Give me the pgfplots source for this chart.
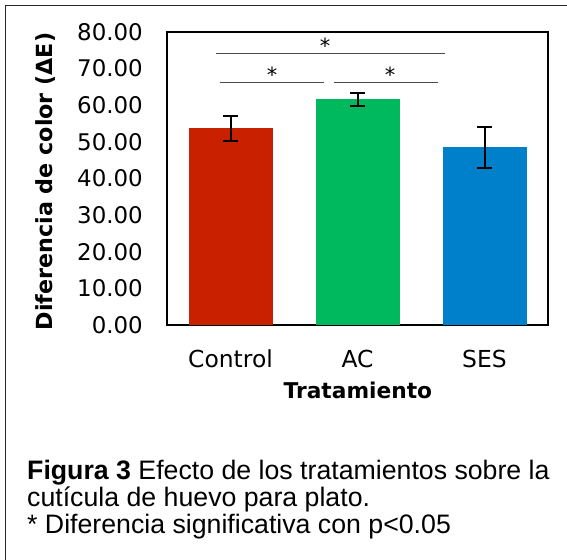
\documentclass[border=0pt]{standalone}
\usepackage{fontspec}
\setmainfont{DejaVu Sans}
\newfontfamily\capfont{Liberation Sans}
\usepackage{pgfplots}
\pgfplotsset{compat=1.18}
\definecolor{cred}{RGB}{201,33,0}
\definecolor{cgreen}{RGB}{0,185,95}
\definecolor{cblue}{RGB}{0,128,203}
\begin{document}
\begin{tikzpicture}
\path[use as bounding box] (0bp,0bp) rectangle (567bp,-560bp);
\draw[line width=1.5bp, black!85] (5.5bp,-560bp) -- (5.5bp,-5.5bp) -- (567bp,-5.5bp);
\begin{axis}[
  at={(167bp,-325bp)}, anchor=south west,
  scale only axis, width=381bp, height=293bp,
  xmin=-0.5, xmax=2.5, ymin=0, ymax=80,
  xtick={0,1,2}, xticklabels={Control,AC,SES},
  ytick={0,10,...,80},
  major tick length=0pt,
  axis line style={line width=1.5bp, black},
  clip=false,
  /pgf/number format/assume math mode=true,
  yticklabel={\pgfmathprintnumber[fixed,fixed zerofill,precision=2]{\tick}},
  yticklabel style={font=\fontsize{23}{23}\selectfont, anchor=east, inner sep=0pt, xshift=-24bp},
  xticklabel style={font=\fontsize{23.5}{23.5}\selectfont, anchor=base, inner sep=0pt, yshift=-42.4bp},
  xlabel={\textbf{Tratamiento}},
  xlabel style={font=\fontsize{21.8}{21.8}\selectfont, at={(axis description cs:0.501,-0.222)}, anchor=center, inner sep=0pt},
  ylabel={\textbf{Diferencia de color (ΔE)}},
  ylabel style={font=\fontsize{22.3}{22.3}\selectfont, at={(axis description cs:-0.32,0.49)}, anchor=center, inner sep=0pt},
]
\addplot[ybar, bar width=84bp, fill=cred, draw=none,
  error bars/.cd, y dir=both, y explicit,
  error bar style={line width=2bp, black},
  error mark options={rotate=90, mark size=7.5bp, line width=2bp, black}]
  coordinates {(0,53.7) +- (0,3.4)};
\addplot[ybar, bar width=84bp, fill=cgreen, draw=none,
  error bars/.cd, y dir=both, y explicit,
  error bar style={line width=2bp, black},
  error mark options={rotate=90, mark size=7.5bp, line width=2bp, black}]
  coordinates {(1,61.6) +- (0,1.8)};
\addplot[ybar, bar width=84bp, fill=cblue, draw=none,
  error bars/.cd, y dir=both, y explicit,
  error bar style={line width=2bp, black},
  error mark options={rotate=90, mark size=7.5bp, line width=2bp, black}]
  coordinates {(2,48.5) +- (0,5.5)};
\addplot[black!70, line width=1bp] coordinates {(-0.117,74.2) (1.689,74.2)};
\addplot[black!70, line width=1bp] coordinates {(-0.083,66.3) (0.736,66.3)};
\addplot[black!70, line width=1bp] coordinates {(0.815,66.3) (1.634,66.3)};
\node[font=\fontsize{21}{21}\selectfont, inner sep=0pt] at (axis cs:0.744,76.3) {*};
\node[font=\fontsize{21}{21}\selectfont, inner sep=0pt] at (axis cs:0.327,68.2) {*};
\node[font=\fontsize{21}{21}\selectfont, inner sep=0pt] at (axis cs:1.256,68.2) {*};
\end{axis}
\node[anchor=base west, inner sep=0pt, font=\capfont\fontsize{26.8}{26.8}\selectfont] at (27bp,-479bp) {\textbf{Figura 3} Efecto de los tratamientos sobre la};
\node[anchor=base west, inner sep=0pt, font=\capfont\fontsize{26.8}{26.8}\selectfont] at (27bp,-506bp) {cutícula de huevo para plato.};
\node[anchor=base west, inner sep=0pt, font=\capfont\fontsize{26.8}{26.8}\selectfont] at (27bp,-533bp) {* Diferencia significativa con p<0.05};
\end{tikzpicture}
\end{document}
